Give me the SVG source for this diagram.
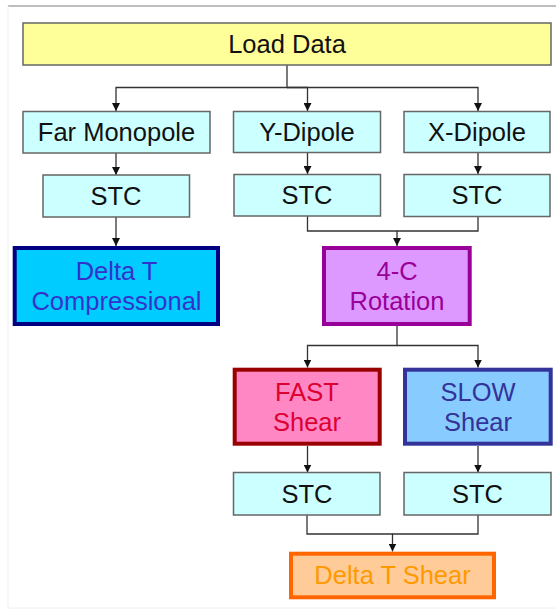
<svg xmlns="http://www.w3.org/2000/svg" width="556" height="610" viewBox="0 0 556 610">
  <style>
    text { font-family: "Liberation Sans", Arial, sans-serif; font-size: 25.5px; text-anchor: middle; }
    .plain { fill: #CCFFFF; stroke: #666666; stroke-width: 1.5; }
    .load { fill: #FFFF99; stroke: #666666; stroke-width: 1.5; }
    .dark { fill: #111111; }
    .link { fill: none; stroke: #333333; stroke-width: 1.3; }
    .comp { fill: #00CCFF; stroke: #000080; stroke-width: 4; }
    .rot { fill: #DD99FF; stroke: #990099; stroke-width: 4; }
    .fast { fill: #FF88C4; stroke: #990000; stroke-width: 4; }
    .slow { fill: #88CCFF; stroke: #333399; stroke-width: 4; }
    .shear { fill: #FFCC99; stroke: #FF6600; stroke-width: 4; }
  </style>
  <defs>
    <marker id="arrow" markerUnits="userSpaceOnUse" markerWidth="8" markerHeight="8" refX="8" refY="4" orient="auto">
      <path d="M0,0 L8,4 L0,8 z" fill="#111111"/>
    </marker>
  </defs>

  <rect width="556" height="610" fill="#FFFFFF"/>
  <!-- page frame -->
  <line x1="8" y1="6" x2="556" y2="6" stroke="#A8A8A8" stroke-width="1.5"/>
  <line x1="8" y1="6" x2="8" y2="608" stroke="#F0F0F0" stroke-width="1"/>
  <line x1="8" y1="608" x2="556" y2="608" stroke="#F0F0F0" stroke-width="1"/>

  <g id="connectors">
    <path class="link" d="M287,65 V87.5 H116 V111" marker-end="url(#arrow)"/>
    <path class="link" d="M287,87.5 H307.5 V111" marker-end="url(#arrow)"/>
    <path class="link" d="M287,87.5 H478 V111" marker-end="url(#arrow)"/>
    <path class="link" d="M116,153 V175" marker-end="url(#arrow)"/>
    <path class="link" d="M116,217 V246" marker-end="url(#arrow)"/>
    <path class="link" d="M307.5,153 V174" marker-end="url(#arrow)"/>
    <path class="link" d="M478,153 V174" marker-end="url(#arrow)"/>
    <path class="link" d="M307.5,216 V231 H397 V246" marker-end="url(#arrow)"/>
    <path class="link" d="M478,216 V231 H397"/>
    <path class="link" d="M397,326 V345.5 H307.5 V367.5" marker-end="url(#arrow)"/>
    <path class="link" d="M397,345.5 H478 V367.5" marker-end="url(#arrow)"/>
    <path class="link" d="M307.5,446 V472.5" marker-end="url(#arrow)"/>
    <path class="link" d="M478,446 V472.5" marker-end="url(#arrow)"/>
    <path class="link" d="M307,515 V534 H392.5 V551.5" marker-end="url(#arrow)"/>
    <path class="link" d="M478,515 V534 H392.5"/>
  </g>

  <g id="load-data">
    <rect class="load" x="23" y="23" width="528" height="42"/>
    <text class="dark" x="287" y="53">Load Data</text>
  </g>
  <g id="far-monopole">
    <rect class="plain" x="23" y="111.5" width="187" height="41.5"/>
    <text class="dark" x="116.5" y="141">Far Monopole</text>
  </g>
  <g id="y-dipole">
    <rect class="plain" x="233.5" y="111.5" width="147" height="41"/>
    <text class="dark" x="307" y="141">Y-Dipole</text>
  </g>
  <g id="x-dipole">
    <rect class="plain" x="404" y="111.5" width="146" height="41"/>
    <text class="dark" x="477" y="141">X-Dipole</text>
  </g>
  <g id="stc-mono">
    <rect class="plain" x="43" y="175" width="146.5" height="42"/>
    <text class="dark" x="116" y="205">STC</text>
  </g>
  <g id="stc-y">
    <rect class="plain" x="234" y="174.5" width="146.5" height="41.5"/>
    <text class="dark" x="307" y="204">STC</text>
  </g>
  <g id="stc-x">
    <rect class="plain" x="404" y="174.5" width="146" height="42"/>
    <text class="dark" x="477" y="204">STC</text>
  </g>
  <g id="delta-t-compressional">
    <rect class="comp" x="14.7" y="248" width="203.3" height="76"/>
    <text x="116.5" y="280" fill="#3333CC">Delta T</text>
    <text x="116.5" y="310" fill="#3333CC">Compressional</text>
  </g>
  <g id="rotation">
    <rect class="rot" x="324" y="248" width="145.7" height="76"/>
    <text x="397" y="280" fill="#990099">4-C</text>
    <text x="397" y="310" fill="#990099">Rotation</text>
  </g>
  <g id="fast-shear">
    <rect class="fast" x="234.7" y="369.7" width="145" height="74"/>
    <text x="307" y="401" fill="#DD0033">FAST</text>
    <text x="307" y="431" fill="#DD0033">Shear</text>
  </g>
  <g id="slow-shear">
    <rect class="slow" x="405" y="369.7" width="145.7" height="74"/>
    <text x="478" y="401" fill="#333399">SLOW</text>
    <text x="478" y="431" fill="#333399">Shear</text>
  </g>
  <g id="stc-fast">
    <rect class="plain" x="233.5" y="472.5" width="146.5" height="42.5"/>
    <text class="dark" x="307" y="503">STC</text>
  </g>
  <g id="stc-slow">
    <rect class="plain" x="404" y="472.5" width="147" height="42.5"/>
    <text class="dark" x="477.5" y="503">STC</text>
  </g>
  <g id="delta-t-shear">
    <rect class="shear" x="291" y="553.7" width="203" height="43.6"/>
    <text x="392.5" y="584" fill="#FF9900">Delta T Shear</text>
  </g>
</svg>
